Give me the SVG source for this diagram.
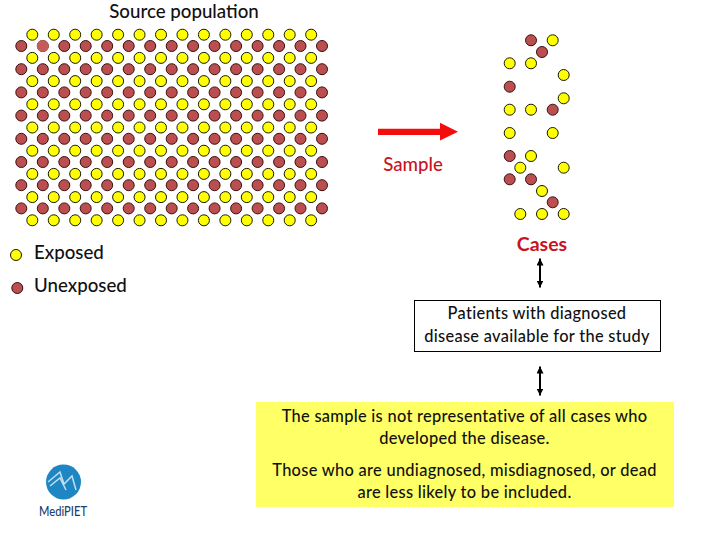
<svg xmlns="http://www.w3.org/2000/svg" xmlns:xlink="http://www.w3.org/1999/xlink" width="720" height="540" viewBox="0 0 720 540">
<style>
text{font-family:"Lato","Open Sans","Liberation Sans",sans-serif;fill:#111}
.y{fill:#ffff00;stroke:#1a1a00;stroke-width:1}
.r{fill:#bb4f4f;stroke:#3a1010;stroke-width:1}
.c{text-anchor:middle}
.lab{font-size:18.700px;font-weight:500}
.red{fill:#c8141e}
.conn{stroke:#000;stroke-width:2;fill:none;marker-start:url(#ah);marker-end:url(#ah)}
.b{font-size:16.400px;font-weight:500;letter-spacing:.3px}
</style>
<defs>
<marker id="ah" viewBox="0 0 8 8" refX="8" refY="4" markerWidth="7" markerHeight="7" markerUnits="userSpaceOnUse" orient="auto-start-reverse"><path d="M0 0L8 4L0 8Z" fill="#000"/></marker>
<g id="yr"><circle class="y" cx="32.3" r="5.5"/><circle class="y" cx="53.75" r="5.5"/><circle class="y" cx="75.2" r="5.5"/><circle class="y" cx="96.65" r="5.5"/><circle class="y" cx="118.1" r="5.5"/><circle class="y" cx="139.55" r="5.5"/><circle class="y" cx="161" r="5.5"/><circle class="y" cx="182.45" r="5.5"/><circle class="y" cx="203.9" r="5.5"/><circle class="y" cx="225.35" r="5.5"/><circle class="y" cx="246.8" r="5.5"/><circle class="y" cx="268.25" r="5.5"/><circle class="y" cx="289.7" r="5.5"/><circle class="y" cx="311.15" r="5.5"/></g>
<g id="rr"><circle class="r" cx="21.3" r="5.5"/><circle class="r" cx="42.8" r="5.5"/><circle class="r" cx="64.3" r="5.5"/><circle class="r" cx="85.7" r="5.5"/><circle class="r" cx="107.2" r="5.5"/><circle class="r" cx="128.7" r="5.5"/><circle class="r" cx="150.2" r="5.5"/><circle class="r" cx="171.7" r="5.5"/><circle class="r" cx="193.1" r="5.5"/><circle class="r" cx="214.6" r="5.5"/><circle class="r" cx="236.1" r="5.5"/><circle class="r" cx="257.6" r="5.5"/><circle class="r" cx="279.1" r="5.5"/><circle class="r" cx="300.5" r="5.5"/><circle class="r" cx="322" r="5.5"/></g>
</defs>
<rect width="720" height="540" fill="#fff"/>
<g id="source-population">
<text class="lab c" x="184" y="18">Source population</text>
<use href="#yr" y="34.7"/><use href="#rr" y="46"/>
<use href="#yr" y="57.9"/><use href="#rr" y="69.2"/>
<use href="#yr" y="81.1"/><use href="#rr" y="92.4"/>
<use href="#yr" y="104.3"/><use href="#rr" y="115.6"/>
<use href="#yr" y="127.5"/><use href="#rr" y="138.8"/>
<use href="#yr" y="150.7"/><use href="#rr" y="162"/>
<use href="#yr" y="173.9"/><use href="#rr" y="185.2"/>
<use href="#yr" y="197.1"/><use href="#rr" y="208.4"/>
<use href="#yr" y="220.3"/>
<circle cx="42.8" cy="46" r="6" fill="#c45c5c"/>
</g>
<g id="sample-arrow">
<path d="M378 128.7H440V122.7L458 131.7L440 140.5V135H378Z" fill="#f40d0d"/>
<text class="lab c red" x="413" y="170.500">Sample</text>
</g>
<g id="sample">
<circle class="r" cx="531" cy="40.3" r="5.5"/><circle class="y" cx="552.7" cy="40.3" r="5.5"/><circle class="r" cx="542" cy="52" r="5.5"/>
<circle class="y" cx="509.7" cy="63.3" r="5.5"/><circle class="y" cx="531" cy="63.3" r="5.5"/><circle class="y" cx="563.7" cy="75" r="5.5"/>
<circle class="r" cx="509.7" cy="86.7" r="5.5"/><circle class="y" cx="563.7" cy="98.3" r="5.5"/>
<circle class="y" cx="509.7" cy="109.7" r="5.5"/><circle class="y" cx="531" cy="109.7" r="5.5"/><circle class="r" cx="552.7" cy="109.7" r="5.5"/>
<circle class="y" cx="509.7" cy="133" r="5.5"/><circle class="y" cx="552.7" cy="133" r="5.5"/>
<circle class="r" cx="509.7" cy="156" r="5.5"/><circle class="y" cx="531" cy="156" r="5.5"/>
<circle class="y" cx="520.3" cy="167.7" r="5.5"/><circle class="y" cx="563.7" cy="167.7" r="5.5"/>
<circle class="r" cx="509.7" cy="179.3" r="5.5"/><circle class="r" cx="531" cy="179.3" r="5.5"/>
<circle class="y" cx="542" cy="191" r="5.5"/><circle class="r" cx="552.7" cy="202.3" r="5.5"/>
<circle class="y" cx="520.3" cy="214" r="5.5"/><circle class="y" cx="542" cy="214" r="5.5"/><circle class="y" cx="563.7" cy="214" r="5.5"/>
</g>
<g id="legend-exposed"><circle class="y" cx="16" cy="255" r="5.5"/><text class="lab" x="34" y="258.500">Exposed</text></g>
<g id="legend-unexposed"><circle class="r" cx="17.3" cy="288" r="5.5"/><text class="lab" x="34" y="291.500">Unexposed</text></g>
<g id="cases"><text class="c red" x="542" y="251" font-size="19.5" font-weight="700">Cases</text></g>
<g id="patients-box">
<rect x="414.5" y="300.5" width="246" height="51" fill="#fff" stroke="#000" stroke-width="1"/>
<text class="c b" x="537" y="319">Patients with diagnosed</text>
<text class="c b" x="537" y="342">disease available for the study</text>
</g>
<g id="note">
<rect x="256" y="402" width="418" height="105" fill="#ffff66"/>
<text class="c b" x="464.500" y="422">The sample is not representative of all cases who</text>
<text class="c b" x="464.500" y="444">developed the disease.</text>
<text class="c b" x="464.500" y="476">Those who are undiagnosed, misdiagnosed, or dead</text>
<text class="c b" x="464.500" y="498">are less likely to be included.</text>
</g>
<g id="logo">
<circle cx="63.500" cy="482" r="17.500" fill="#1f86c4"/>
<path d="M48 482L60 472L64 484L72 476L76 490M50 486L60 478L66 490" fill="none" stroke="#bfe0f2" stroke-width="1.500"/>
<text x="39" y="515.700" font-size="14" font-weight="500" textLength="48" lengthAdjust="spacingAndGlyphs" style="fill:#1d3f70">MediPIET</text>
</g>
<g id="connectors">
<line class="conn" x1="540" y1="258.500" x2="540" y2="287.500"/>
<line class="conn" x1="540" y1="366.500" x2="540" y2="395.500"/>
</g>
</svg>
